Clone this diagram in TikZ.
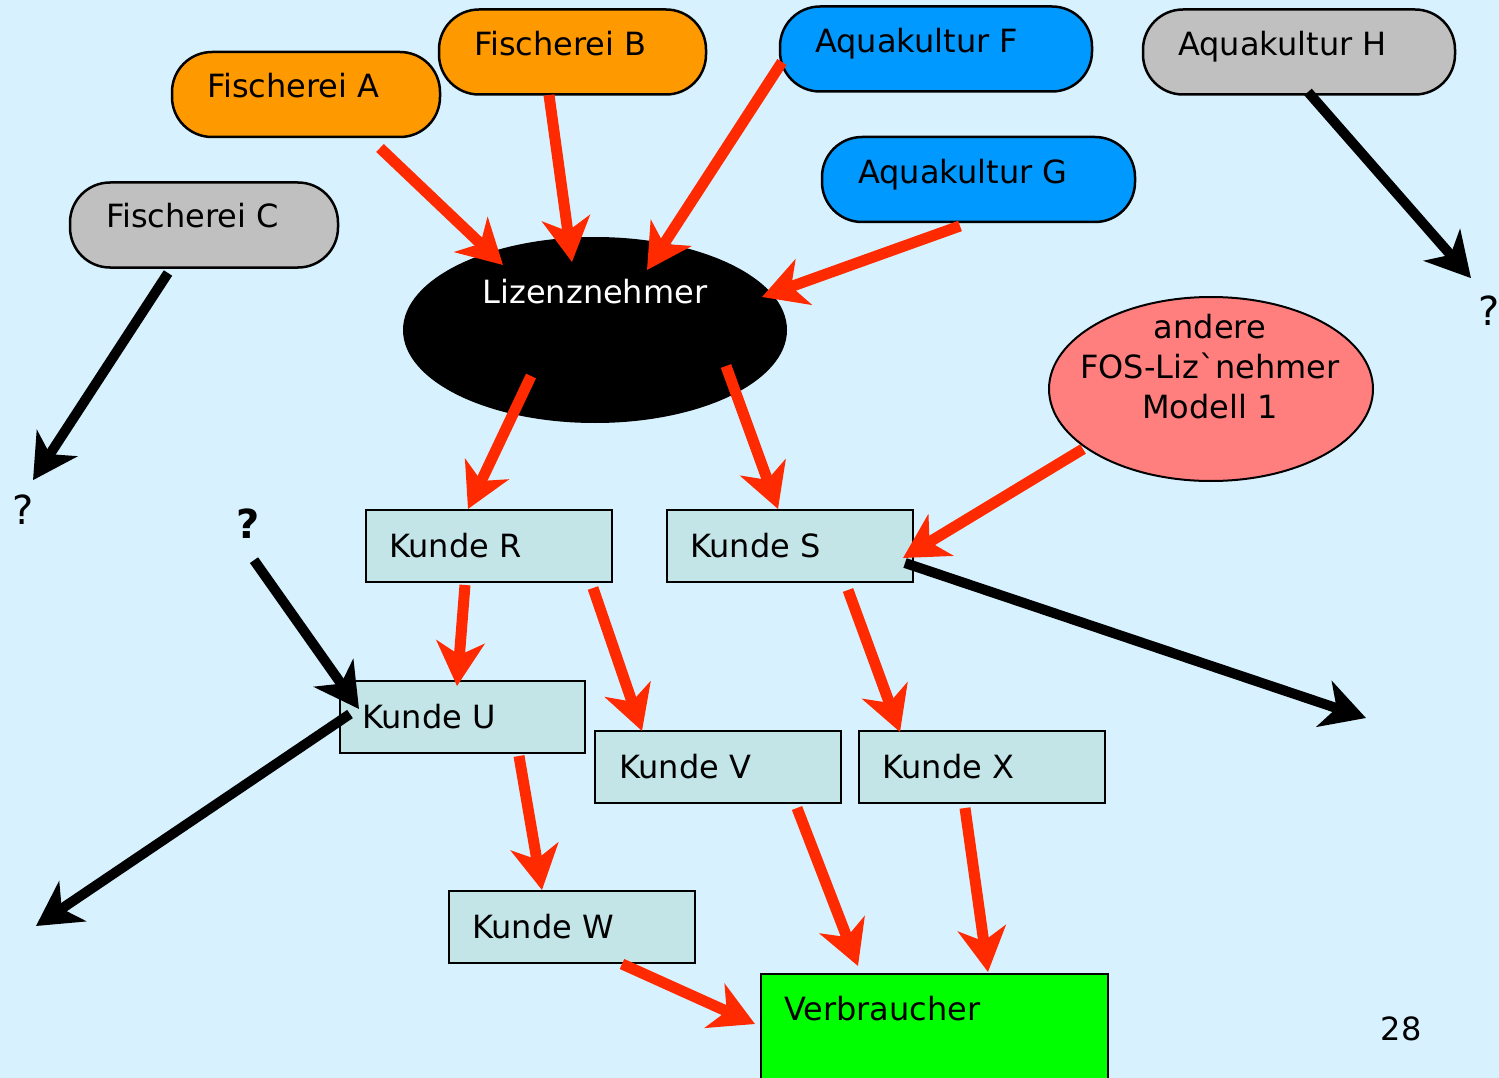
\documentclass[tikz,border=0pt]{standalone}
\usepackage{fontspec}
\setmainfont{DejaVu Sans}
\usetikzlibrary{arrows.meta,shapes.geometric,calc}
\definecolor{bgc}{HTML}{D7F2FE}
\definecolor{orangec}{HTML}{FF9900}
\definecolor{bluec}{HTML}{0099FF}
\definecolor{grayc}{HTML}{C0C0C0}
\definecolor{salmonc}{HTML}{FF7F7F}
\definecolor{kundec}{HTML}{C4E5E8}
\definecolor{greenc}{HTML}{00FF00}
\definecolor{redc}{HTML}{FF2A00}
\begin{document}
\begin{tikzpicture}[x=1pt,y=-1pt,
  lbl/.style={font=\fontsize{32}{40}\selectfont, inner sep=0pt},
  qm/.style={font=\fontsize{40}{48}\selectfont, inner sep=0pt},
  pill/.style={draw=black, line width=2.5pt, rounded corners=40pt, minimum height=85pt, inner sep=0pt},
  kbox/.style={draw=black, line width=2pt, fill=kundec, minimum width=246pt, minimum height=72pt, inner sep=0pt},
  redarrow/.style={draw=redc, line width=11pt, -{Stealth[length=44pt,width=48pt,inset=13pt]}},
  blkarrow/.style={draw=black, line width=10pt, -{Stealth[length=44pt,width=48pt,inset=13pt]}}
]
\useasboundingbox (0,0) rectangle (1499,1078);
\fill[bgc] (0,0) rectangle (1499,1078);
\clip (0,0) rectangle (1499,1078);

% sources
\node[pill, fill=orangec, minimum width=268pt] (fa) at (306,94.5) {};
\node[lbl, anchor=base west] (fat) at (207,98) {Fischerei A};
\node[pill, fill=orangec, minimum width=267pt] (fb) at (572.5,52) {};
\node[lbl, anchor=base west] (fbt) at (474,56) {Fischerei B};
\node[pill, fill=bluec, minimum width=312pt] (af) at (936,49) {};
\node[lbl, anchor=base west] (aft) at (815,53) {Aquakultur F};
\node[pill, fill=grayc, minimum width=312pt] (ah) at (1299,52) {};
\node[lbl, anchor=base west] (aht) at (1178,56) {Aquakultur H};
\node[pill, fill=bluec, minimum width=313pt] (ag) at (978.5,179.5) {};
\node[lbl, anchor=base west] (agt) at (858,184) {Aquakultur G};
\node[pill, fill=grayc, minimum width=268pt] (fc) at (204,225) {};
\node[lbl, anchor=base west] (fct) at (106,228) {Fischerei C};

% ellipses
\node[ellipse, fill=black, minimum width=384pt, minimum height=186pt, inner sep=0pt] (liz) at (595,330) {};
\node[lbl, anchor=base, text=white] (lizt) at (595,303) {Lizenznehmer};
\node[ellipse, draw=black, line width=2pt, fill=salmonc, minimum width=324pt, minimum height=184pt, inner sep=0pt] (fos) at (1211,389) {};
\node[lbl, anchor=base, align=center] (fost) at (1210,418) {andere\\FOS-Liz\textasciigrave nehmer\\Modell 1};

% customers
\node[kbox] (kr) at (489,546) {};
\node[lbl, anchor=base west] (krt) at (389,557) {Kunde R};
\node[kbox] (ks) at (790,546) {};
\node[lbl, anchor=base west] (kst) at (690,557) {Kunde S};
\node[kbox, minimum width=245pt] (ku) at (462.5,717) {};
\node[lbl, anchor=base west] (kut) at (362,728) {Kunde U};
\node[kbox] (kv) at (718,767) {};
\node[lbl, anchor=base west] (kvt) at (619,778) {Kunde V};
\node[kbox] (kx) at (982,767) {};
\node[lbl, anchor=base west] (kxt) at (882,778) {Kunde X};
\node[kbox] (kw) at (572,927) {};
\node[lbl, anchor=base west] (kwt) at (472,938) {Kunde W};
\node[draw=black, line width=2.5pt, fill=greenc, minimum width=347pt, minimum height=112pt, inner sep=0pt] (vb) at (934.5,1030) {};
\node[lbl, anchor=base west] (vbt) at (784,1020) {Verbraucher};

% question marks and page number
\node[qm, anchor=base] (q1) at (23,524) {?};
\node[qm, anchor=base, font=\fontsize{40}{48}\selectfont\bfseries] (q2) at (248,538) {?};
\node[qm, anchor=base] (q3) at (1489,325) {?};
\node[lbl, anchor=base] (pg) at (1401,1040) {28};
\coordinate (outs) at (1366,718);
\coordinate (outu) at (36,926);

% red arrows
\draw[redarrow] ($(fa.center)+(74,53.5)$) -- ($(liz.center)+(-92,-65)$);
\draw[redarrow] ($(fb.center)+(-23.5,43)$) -- ($(liz.center)+(-23,-68)$);
\draw[redarrow] ($(af.center)+(-154,13)$) -- ($(liz.center)+(52,-60)$);
\draw[redarrow] ($(ag.center)+(-18.5,46.5)$) -- ($(liz.center)+(167,-33)$);
\draw[redarrow] ($(liz.center)+(-64,46)$) -- ($(kr.center)+(-21,-37)$);
\draw[redarrow] ($(liz.center)+(131,36)$) -- ($(ks.center)+(-12,-37)$);
\draw[redarrow] ($(fos.center)+(-128,60)$) -- ($(ks.center)+(113,12)$);
\draw[redarrow] ($(kr.center)+(-24,39)$) -- ($(ku.center)+(-5.5,-31)$);
\draw[redarrow] ($(kr.center)+(104,42)$) -- ($(kv.center)+(-76,-36)$);
\draw[redarrow] ($(ks.center)+(58,44)$) -- ($(kx.center)+(-82,-35)$);
\draw[redarrow] ($(ku.center)+(56.5,39)$) -- ($(kw.center)+(-30,-37)$);
\draw[redarrow] ($(kv.center)+(79,41)$) -- ($(vb.center)+(-76.5,-64)$);
\draw[redarrow] ($(kx.center)+(-17,41)$) -- ($(vb.center)+(53.5,-58)$);
\draw[redarrow] ($(kw.center)+(50,37)$) -- ($(vb.center)+(-179.5,-6)$);

% black arrows
\draw[blkarrow] ($(fc.center)+(-36,48)$) -- ($(q1.center)+(10,-29)$);
\draw[blkarrow] ($(ah.center)+(9,40)$) -- ($(q3.center)+(-18,-32)$);
\draw[blkarrow] ($(q2.center)+(6,37)$) -- ($(ku.center)+(-103.5,-8)$);
\draw[blkarrow] ($(ks.center)+(115,17)$) -- (outs);
\draw[blkarrow] ($(ku.center)+(-112.5,-3)$) -- (outu);
\end{tikzpicture}
\end{document}
